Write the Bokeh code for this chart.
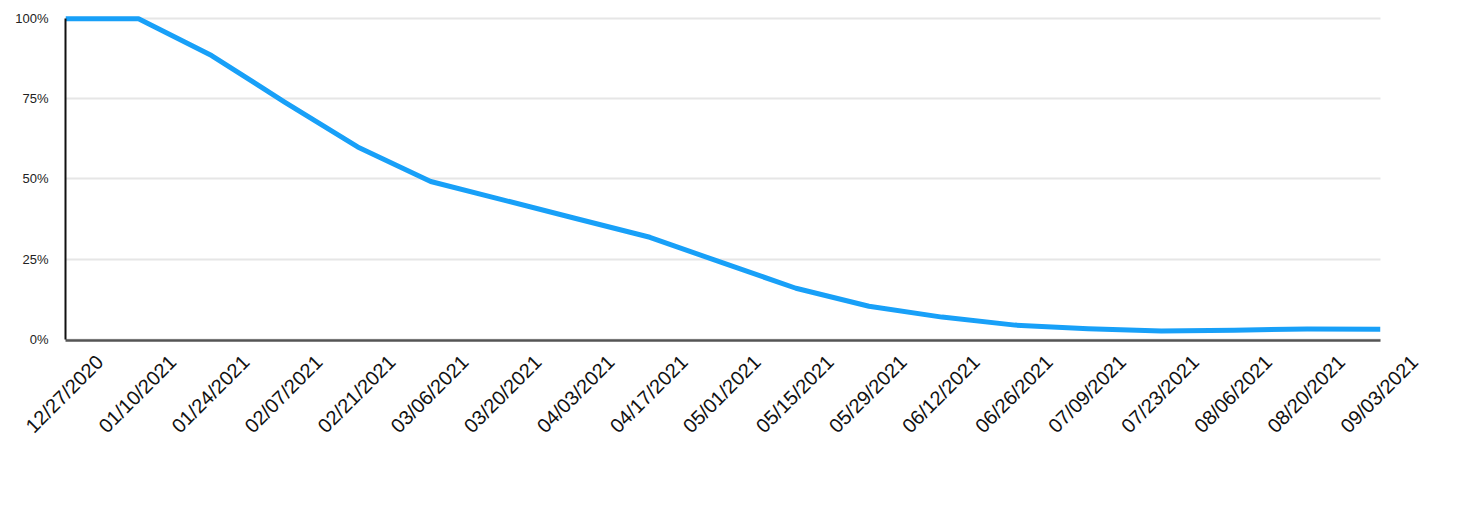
from math import pi
from bokeh.plotting import figure
from bokeh.models import (Range1d, LinearAxis, FixedTicker, PrintfTickFormatter, Grid)
from bokeh.embed import file_html
from bokeh.resources import INLINE

# ---- data ----
dates = ["12/27/2020", "01/10/2021", "01/24/2021", "02/07/2021", "02/21/2021",
         "03/06/2021", "03/20/2021", "04/03/2021", "04/17/2021", "05/01/2021",
         "05/15/2021", "05/29/2021", "06/12/2021", "06/26/2021", "07/09/2021",
         "07/23/2021", "08/06/2021", "08/20/2021", "09/03/2021"]
ve_pct = [100, 100, 88.5, 74, 60, 49.2, 43.4, 37.6, 31.8, 23.8,
          15.9, 10.3, 6.9, 4.4, 3.3, 2.6, 2.8, 3.2, 3.1]
y_ticks = [0, 25, 50, 75, 100]

x_idx = list(range(len(dates)))
n_last = len(dates) - 1

FONT = "Liberation Sans"
SHIFT = 0.46875          # rotated labels are centred on their ticks
UNIT_PX = 1315 / n_last  # pixels per date step

p = figure(frame_width=round(UNIT_PX * (n_last + SHIFT)), frame_height=325,
           x_range=Range1d(0, n_last + SHIFT), y_range=Range1d(-0.4, 101),
           output_backend="svg", toolbar_location=None,
           min_border_left=65, min_border_top=15, min_border_right=40,
           min_border_bottom=100)
p.outline_line_color = None
p.background_fill_color = "white"
p.border_fill_color = "white"
p.xgrid.visible = False

# baseline axis (line only)
xax = p.xaxis[0]
xax.ticker = FixedTicker(ticks=[], minor_ticks=[])
xax.bounds = (0, n_last)
xax.axis_line_color = "#555555"
xax.axis_line_width = 2.5
xax.major_tick_line_color = None
xax.minor_tick_line_color = None
xax.major_tick_out = 0
xax.minor_tick_out = 0
xax.major_label_standoff = 0
xax.major_label_text_font_size = "0px"

# label axis: shifted range so the rotated labels are centred on each date
p.extra_x_ranges = {"lab": Range1d(-SHIFT, n_last)}
lax = LinearAxis(x_range_name="lab",
                 ticker=FixedTicker(ticks=x_idx, minor_ticks=[]),
                 major_label_overrides={i: d for i, d in enumerate(dates)})
lax.axis_line_color = None
lax.major_tick_line_color = None
lax.minor_tick_line_color = None
lax.major_tick_out = 0
lax.minor_tick_out = 0
lax.major_label_orientation = pi / 4
lax.major_label_standoff = 18
lax.major_label_text_font = FONT
lax.major_label_text_font_size = "20px"
lax.major_label_text_color = "#111111"
p.add_layout(lax, "below")

yax = p.yaxis[0]
yax.ticker = FixedTicker(ticks=y_ticks, minor_ticks=[])
yax.formatter = PrintfTickFormatter(format="%d%%")
yax.bounds = (0, 100)
yax.axis_line_color = "#111111"
yax.axis_line_width = 2
yax.major_tick_line_color = None
yax.minor_tick_line_color = None
yax.major_tick_out = 0
yax.minor_tick_out = 0
yax.major_label_standoff = 17
yax.major_label_text_font = FONT
yax.major_label_text_font_size = "13px"
yax.major_label_text_color = "#222222"

if "cross_bounds" in Grid.properties():
    p.ygrid.ticker = FixedTicker(ticks=y_ticks)
    p.ygrid.grid_line_color = "#e6e6e6"
    p.ygrid.grid_line_width = 2
    p.ygrid.cross_bounds = (0, n_last)
else:
    p.ygrid.visible = False
    yax.level = "underlay"
    yax.major_tick_in = 1315
    yax.major_tick_line_color = "#e6e6e6"
    yax.major_tick_line_width = 2

p.line(x=x_idx, y=ve_pct, line_color="#18A0F8", line_width=5, line_join="round")

open("out.html", "w").write(file_html(p, INLINE))
